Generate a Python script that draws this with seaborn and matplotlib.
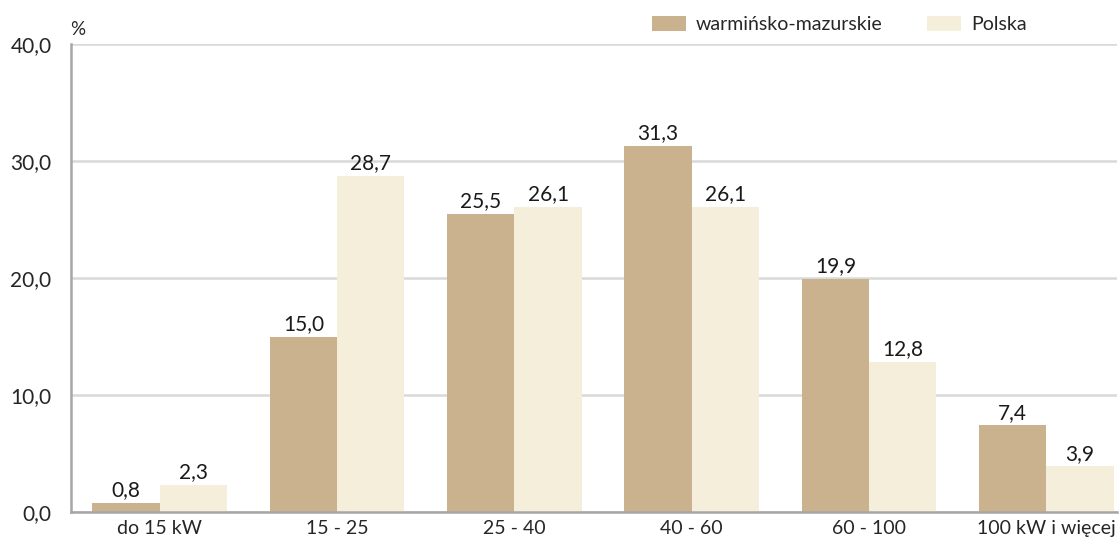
import pandas as pd
import seaborn as sns
import matplotlib.pyplot as plt

# data
kategorie = ["do 15 kW", "15 - 25", "25 - 40", "40 - 60", "60 - 100", "100 kW i więcej"]
warminsko = [0.8, 15.0, 25.5, 31.3, 19.9, 7.4]
polska = [2.3, 28.7, 26.1, 26.1, 12.8, 3.9]
serie = ["warmińsko-mazurskie", "Polska"]
kolory = ["#C9B28D", "#F5EEDB"]
yticks = [0, 10, 20, 30, 40]

df = pd.DataFrame({
    "kat": kategorie * 2,
    "val": warminsko + polska,
    "seria": [serie[0]] * len(kategorie) + [serie[1]] * len(kategorie),
})

sns.set_style("white")
plt.rcParams["font.family"] = ["Lato", "DejaVu Sans"]

fig = plt.figure(figsize=(11.19, 5.43), dpi=100)
ax = fig.add_axes([0.0635, 0.057, 0.935, 0.862])

sns.barplot(data=df, x="kat", y="val", hue="seria", order=kategorie,
            hue_order=serie, palette=kolory, width=0.76, saturation=1,
            linewidth=0, ax=ax, legend=True)

for cont in ax.containers:
    ax.bar_label(cont, labels=[f"{v:.1f}".replace(".", ",") for v in cont.datavalues],
                 padding=2, fontsize=15, color="#1a1a1a")

ax.set_ylim(0, 40)
ax.set_xlim(-0.5, 5.40)
ax.set_yticks(yticks)
ax.set_yticklabels([f"{t:.1f}".replace(".", ",") for t in yticks], fontsize=15)
ax.tick_params(axis="x", labelsize=14, length=0, pad=6)
ax.tick_params(axis="y", length=0, pad=14)
ax.set_xlabel("")
ax.set_ylabel("")
ax.yaxis.grid(True, color="#D9D9D9", linewidth=1.8)
ax.set_axisbelow(True)
for s in ["top", "right"]:
    ax.spines[s].set_visible(False)
for s in ["left", "bottom"]:
    ax.spines[s].set_color("#A6A6A6")
    ax.spines[s].set_linewidth(1.8)

ax.text(-0.001, 1.012, "%", transform=ax.transAxes, fontsize=13.5, ha="left", va="bottom")

h, l = ax.get_legend_handles_labels()
ax.get_legend().remove()
fig.legend(h, l, loc="center left", bbox_to_anchor=(0.567, 0.955), ncol=2,
           frameon=False, fontsize=14, handlelength=1.75, handleheight=0.85,
           columnspacing=2.3, handletextpad=0.5)

fig.savefig("out.png", dpi=100)
